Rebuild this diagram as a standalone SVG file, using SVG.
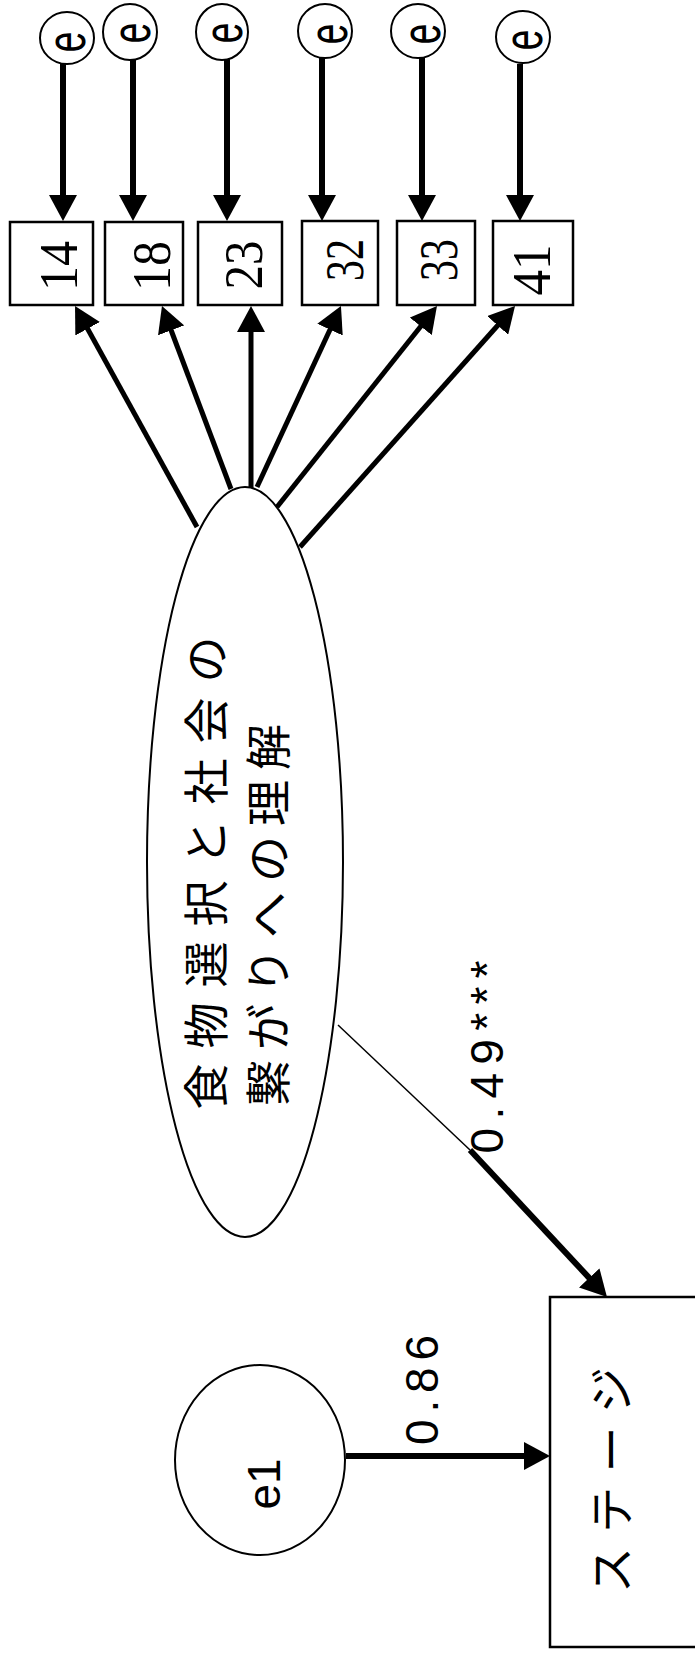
<svg xmlns="http://www.w3.org/2000/svg" width="695" height="1653" viewBox="0 0 695 1653">
<style>
.shape{fill:#fff;stroke:#000;stroke-width:2}
.box{fill:#fff;stroke:#000;stroke-width:2.5}
.num{font-family:"Liberation Serif",serif;font-size:54px;fill:#000}
.lbl{font-family:"Liberation Sans",sans-serif;font-size:46px;fill:#000}
.ev{font-family:"Liberation Sans",sans-serif;font-size:56px;fill:#000}
.jp{font-family:"Liberation Sans","Noto Sans CJK JP",sans-serif;font-size:46px;fill:#000}
.c{fill:none;stroke:#000}
</style>
<defs>
<marker id="ah" markerUnits="userSpaceOnUse" markerWidth="26" markerHeight="28" viewBox="0 0 26 28" refX="18" refY="14" orient="auto">
<path d="M0,0 L26,14 L0,28 z" fill="#000"/>
</marker>
</defs>
<rect width="695" height="1653" fill="#fff"/>

<g id="connectors">
<line class="c" stroke-width="6" x1="63" y1="64" x2="63" y2="213" marker-end="url(#ah)"/>
<line class="c" stroke-width="6" x1="133" y1="60" x2="133" y2="213" marker-end="url(#ah)"/>
<line class="c" stroke-width="6" x1="227" y1="59" x2="227" y2="213" marker-end="url(#ah)"/>
<line class="c" stroke-width="6" x1="322" y1="58" x2="322" y2="213" marker-end="url(#ah)"/>
<line class="c" stroke-width="6" x1="422" y1="58" x2="422" y2="213" marker-end="url(#ah)"/>
<line class="c" stroke-width="6" x1="520" y1="64" x2="520" y2="213" marker-end="url(#ah)"/>

<line class="c" stroke-width="5" x1="197" y1="527" x2="78.9" y2="313" marker-end="url(#ah)"/>
<line class="c" stroke-width="5" x1="231" y1="489" x2="164.8" y2="313.5" marker-end="url(#ah)"/>
<line class="c" stroke-width="5" x1="251" y1="488" x2="251" y2="314" marker-end="url(#ah)"/>
<line class="c" stroke-width="5" x1="257" y1="487" x2="337.6" y2="313.3" marker-end="url(#ah)"/>
<line class="c" stroke-width="5" x1="277" y1="507" x2="432" y2="312.3" marker-end="url(#ah)"/>
<line class="c" stroke-width="5" x1="300" y1="547" x2="509.7" y2="312" marker-end="url(#ah)"/>

<line class="c" stroke-width="1.5" x1="338" y1="1025" x2="470" y2="1150"/>
<line class="c" stroke-width="6" x1="470" y1="1150" x2="601.5" y2="1291.1" marker-end="url(#ah)"/>
<text class="lbl" transform="translate(503,1057) rotate(-90)" text-anchor="middle" textLength="193" lengthAdjust="spacing">0.49***</text>

<line class="c" stroke-width="6" x1="346" y1="1456" x2="542" y2="1456" marker-end="url(#ah)"/>
<text class="lbl" transform="translate(438,1390) rotate(-90)" text-anchor="middle" textLength="110" lengthAdjust="spacing">0.86</text>
</g>

<g id="err1"><ellipse class="shape" cx="67" cy="38" rx="27" ry="26"/><text class="ev" transform="translate(85,42) rotate(-90) scale(0.66,1)" text-anchor="middle">e</text></g>
<g id="err2"><ellipse class="shape" cx="130" cy="32" rx="27" ry="28"/><text class="ev" transform="translate(150,33) rotate(-90) scale(0.66,1)" text-anchor="middle">e</text></g>
<g id="err3"><ellipse class="shape" cx="222" cy="32" rx="26" ry="28"/><text class="ev" transform="translate(242,33) rotate(-90) scale(0.66,1)" text-anchor="middle">e</text></g>
<g id="err4"><ellipse class="shape" cx="325" cy="31" rx="27" ry="27"/><text class="ev" transform="translate(347,34) rotate(-90) scale(0.66,1)" text-anchor="middle">e</text></g>
<g id="err5"><ellipse class="shape" cx="418" cy="31" rx="27" ry="27"/><text class="ev" transform="translate(440,34) rotate(-90) scale(0.66,1)" text-anchor="middle">e</text></g>
<g id="err6"><ellipse class="shape" cx="523" cy="37" rx="27" ry="26"/><text class="ev" transform="translate(542,40) rotate(-90) scale(0.66,1)" text-anchor="middle">e</text></g>

<g id="v14"><rect class="box" x="10" y="222" width="83" height="83"/><text class="num" transform="translate(77,266) rotate(-90)" text-anchor="middle" textLength="50" lengthAdjust="spacingAndGlyphs">14</text></g>
<g id="v18"><rect class="box" x="105" y="222" width="78" height="83"/><text class="num" transform="translate(170,266) rotate(-90)" text-anchor="middle" textLength="50" lengthAdjust="spacingAndGlyphs">18</text></g>
<g id="v23"><rect class="box" x="198" y="222" width="84" height="83"/><text class="num" transform="translate(262,265) rotate(-90)" text-anchor="middle" textLength="49" lengthAdjust="spacingAndGlyphs">23</text></g>
<g id="v32"><rect class="box" x="302" y="221" width="76" height="84"/><text class="num" transform="translate(363,260) rotate(-90)" text-anchor="middle" textLength="42" lengthAdjust="spacingAndGlyphs">32</text></g>
<g id="v33"><rect class="box" x="397" y="221" width="78" height="84"/><text class="num" transform="translate(457,260) rotate(-90)" text-anchor="middle" textLength="42" lengthAdjust="spacingAndGlyphs">33</text></g>
<g id="v41"><rect class="box" x="493" y="221" width="80" height="84"/><text class="num" transform="translate(550,270) rotate(-90)" text-anchor="middle" textLength="51" lengthAdjust="spacingAndGlyphs">41</text></g>

<g id="factor">
<ellipse class="shape" cx="245" cy="862" rx="98" ry="375"/>
<text class="jp" transform="translate(223,873) rotate(-90)" text-anchor="middle" textLength="473" lengthAdjust="spacing">食物選択と社会の</text>
<text class="jp" transform="translate(285,915) rotate(-90)" text-anchor="middle" textLength="382" lengthAdjust="spacing">繋がりへの理解</text>
</g>

<g id="stage">
<rect class="box" x="550" y="1297" width="160" height="350"/>
<text class="jp" transform="translate(628,1480) rotate(-90)" text-anchor="middle" textLength="226" lengthAdjust="spacing">ステージ</text>
</g>

<g id="e1">
<ellipse class="shape" cx="260" cy="1460" rx="85" ry="95"/>
<text class="lbl" transform="translate(280,1484) rotate(-90)" text-anchor="middle">e1</text>
</g>
</svg>
